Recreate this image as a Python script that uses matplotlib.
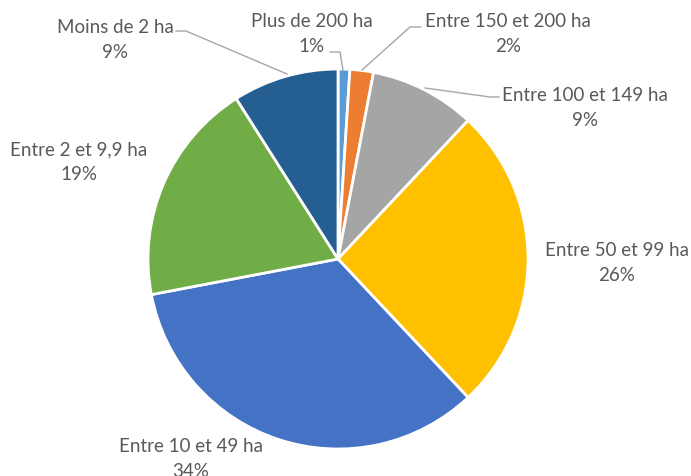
import matplotlib
matplotlib.use('Agg')
import matplotlib.pyplot as plt

# data
labels = ['Plus de 200 ha', 'Entre 150 et 200 ha', 'Entre 100 et 149 ha',
          'Entre 50 et 99 ha', 'Entre 10 et 49 ha', 'Entre 2 et 9,9 ha',
          'Moins de 2 ha']
shares = [1, 2, 9, 26, 34, 19, 9]
colors = ['#5B9BD5', '#ED7D31', '#A5A5A5', '#FFC000', '#4472C4', '#70AD47', '#255E91']

W, H = 691, 477
cx, cy, R = 338, 260, 190

def to_data(px, py):
    return (px - cx) / R, (cy - py) / R

fig = plt.figure(figsize=(W / 100, H / 100), dpi=100)
ax = fig.add_axes([0, 0, 1, 1])

ax.pie(shares, colors=colors, startangle=90, counterclock=False, radius=1,
       wedgeprops=dict(edgecolor='white', linewidth=2))
ax.set_xlim(-cx / R, (W - cx) / R)
ax.set_ylim(-(H - cy) / R, cy / R)
ax.set_aspect('equal')
ax.axis('off')

# label placement (pixel coords of text centre) and optional leader line
label_pos = [(312, 34), (508, 34), (585, 108), (617, 263), (191, 459), (79, 162), (115, 40)]
leaders = {
    0: [(330, 53), (340, 53), (343, 71)],
    1: [(421, 28), (410, 28), (362, 71)],
    2: [(499, 98), (490, 98), (425, 89)],
    6: [(176, 32), (186, 32), (287, 75)],
}

for i, (lab, val) in enumerate(zip(labels, shares)):
    x, y = to_data(*label_pos[i])
    ax.text(x, y, f'{lab}\n{val}%', ha='center', va='center', fontsize=13.5,
            family='Lato', color='#595959', linespacing=1.55)
    if i in leaders:
        pts = [to_data(px, py) for px, py in leaders[i]]
        ax.plot([p[0] for p in pts], [p[1] for p in pts], color='#A6A6A6', lw=1)

fig.savefig('out.png', dpi=100)
